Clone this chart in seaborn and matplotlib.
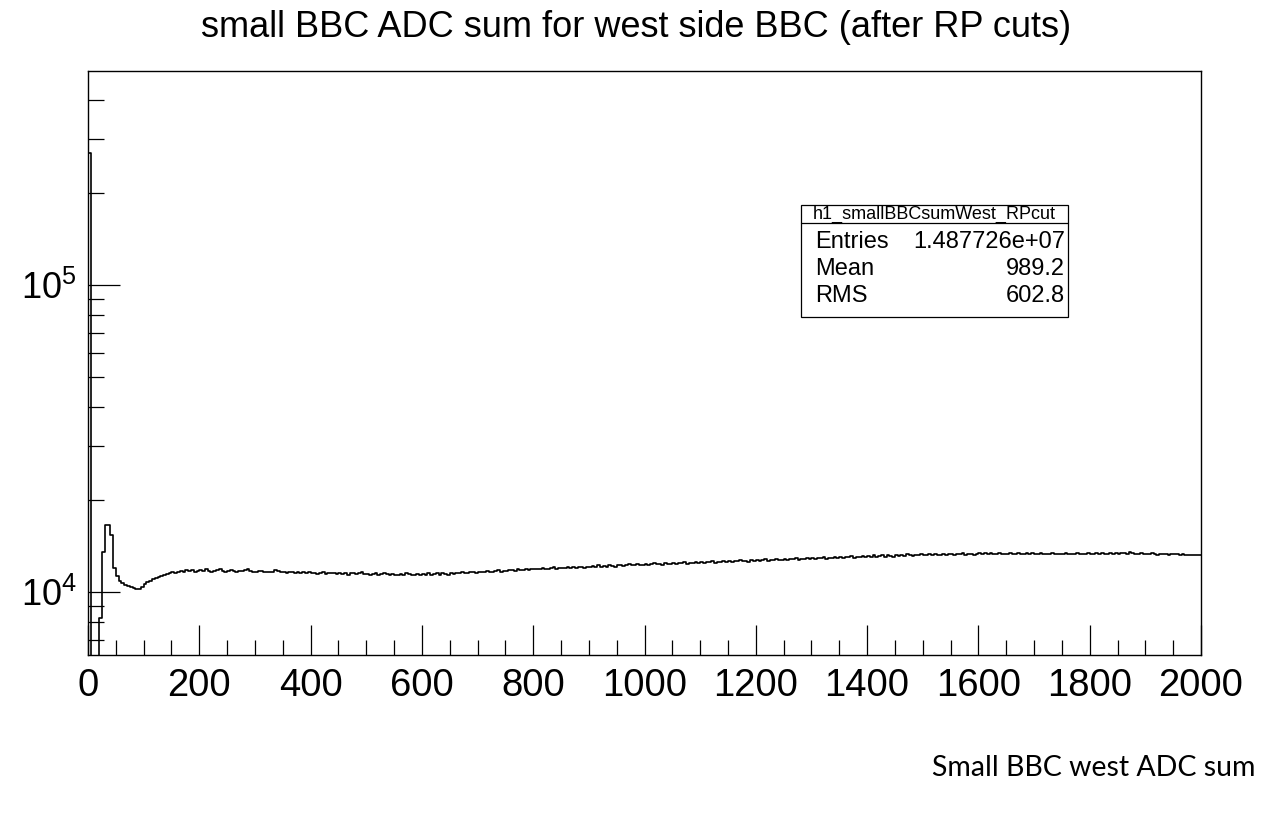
import numpy as np
import pandas as pd
import matplotlib
matplotlib.use("Agg")
import matplotlib.pyplot as plt
import seaborn as sns
from matplotlib.ticker import FixedLocator, LogLocator, NullFormatter, FuncFormatter
from matplotlib.patches import Rectangle
from matplotlib.lines import Line2D

# ---------------- data ----------------
x_min, x_max, n_bins = 0, 2000, 400
bin_edges = np.linspace(x_min, x_max, n_bins + 1)

counts = [
    270000, 0, 0, 0, 8200, 13500, 16500, 16500, 15300, 12000,
    11300, 10900, 10700, 10550, 10450, 10400, 10300, 10250, 10200, 10350,
    10600, 10750, 10850, 11000, 11100, 11200, 11250, 11350, 11450, 11500,
    11600, 11550, 11650, 11700, 11650, 11750, 11700, 11800, 11650, 11700,
    11750, 11700, 11850, 11700, 11650, 11700, 11750, 11900, 11700, 11650,
    11700, 11800, 11700, 11650, 11700, 11700, 11750, 11900, 11700, 11650,
    11650, 11700, 11700, 11600, 11650, 11650, 11650, 11800, 11700, 11650,
    11600, 11550, 11650, 11600, 11550, 11600, 11500, 11650, 11550, 11600,
    11500, 11550, 11450, 11500, 11600, 11450, 11500, 11550, 11500, 11450,
    11500, 11450, 11550, 11400, 11500, 11550, 11450, 11500, 11600, 11450,
    11450, 11400, 11450, 11550, 11400, 11450, 11500, 11450, 11400, 11450,
    11350, 11400, 11450, 11350, 11500, 11450, 11400, 11350, 11450, 11400,
    11450, 11400, 11500, 11350, 11450, 11500, 11400, 11550, 11450, 11400,
    11500, 11450, 11550, 11500, 11600, 11550, 11500, 11600, 11650, 11550,
    11650, 11600, 11650, 11700, 11600, 11650, 11700, 11750, 11650, 11700,
    11700, 11750, 11800, 11700, 11850, 11750, 11800, 11900, 11750, 11850,
    11900, 11850, 11900, 11950, 11850, 11900, 11950, 12050, 11900, 11950,
    12000, 11950, 12050, 12000, 12100, 11950, 12050, 12100, 12000, 12050,
    12100, 12150, 12050, 12200, 12100, 12150, 12050, 12200, 12150, 12100,
    12200, 12250, 12150, 12250, 12300, 12200, 12250, 12350, 12250, 12200,
    12300, 12250, 12350, 12400, 12300, 12350, 12250, 12400, 12350, 12300,
    12400, 12350, 12450, 12400, 12500, 12350, 12450, 12400, 12500, 12450,
    12500, 12450, 12550, 12500, 12600, 12450, 12550, 12500, 12600, 12550,
    12600, 12550, 12650, 12600, 12700, 12600, 12650, 12550, 12700, 12650,
    12700, 12650, 12750, 12800, 12650, 12750, 12700, 12850, 12750, 12700,
    12800, 12750, 12850, 12800, 12900, 12750, 12850, 12800, 12900, 12850,
    12900, 12850, 12950, 12900, 13000, 12850, 12950, 12900, 13050, 12950,
    13000, 12950, 13050, 13000, 13100, 12950, 13050, 13000, 13100, 13050,
    13100, 13050, 13150, 13000, 13100, 13150, 13050, 13200, 13100, 13050,
    13150, 13100, 13200, 13100, 13250, 13150, 13100, 13200, 13150, 13250,
    13200, 13150, 13250, 13150, 13300, 13200, 13150, 13250, 13200, 13300,
    13250, 13200, 13300, 13250, 13350, 13200, 13300, 13250, 13200, 13300,
    13350, 13300, 13400, 13250, 13350, 13300, 13250, 13350, 13300, 13250,
    13300, 13350, 13250, 13300, 13400, 13300, 13250, 13350, 13300, 13350,
    13300, 13250, 13350, 13300, 13250, 13300, 13350, 13250, 13300, 13300,
    13250, 13350, 13300, 13250, 13300, 13350, 13300, 13250, 13300, 13350,
    13300, 13250, 13350, 13300, 13400, 13300, 13250, 13350, 13300, 13350,
    13300, 13350, 13400, 13300, 13500, 13350, 13300, 13250, 13350, 13300,
    13250, 13300, 13350, 13250, 13200, 13300, 13250, 13300, 13200, 13250,
    13300, 13250, 13200, 13250, 13200, 13200, 13200, 13200, 13200, 13200,
]

title_text = "small BBC ADC sum for west side BBC (after RP cuts)"
xlabel_text = "Small BBC west ADC sum"
stats_name = "h1_smallBBCsumWest_RPcut"
stats_labels = ["Entries", "Mean", "RMS"]
stats_values = ["1.487726e+07", "989.2", "602.8"]
x_major_ticks = [0, 200, 400, 600, 800, 1000, 1200, 1400, 1600, 1800, 2000]
y_range = (6234, 4.98e5)

# ---------------- plot ----------------
sns.set_theme(style="white")
plt.rcParams["font.family"] = ["Liberation Sans", "DejaVu Sans"]
plt.rcParams["mathtext.fontset"] = "custom"
plt.rcParams["mathtext.rm"] = "Liberation Sans"
plt.rcParams["mathtext.it"] = "Liberation Sans"

W, H = 1271, 816
fig = plt.figure(figsize=(W / 100, H / 100), dpi=100)
fig.patch.set_facecolor("white")
L, R, T, B = 88, 1201, 71, 655
ax = fig.add_axes([L / W, 1 - B / H, (R - L) / W, (B - T) / H])
ax.set_facecolor("white")

df = pd.DataFrame({"center": 0.5 * (bin_edges[:-1] + bin_edges[1:]),
                   "count": np.asarray(counts, dtype=float)})
sns.histplot(data=df, x="center", weights="count", bins=list(bin_edges), element="step",
             fill=False, color="black", linewidth=1.2, ax=ax)

ax.set_yscale("log")
ax.set_xlim(x_min, x_max)
ax.set_ylim(*y_range)
ax.set_xlabel("")
ax.set_ylabel("")

for s in ax.spines.values():
    s.set_color("black")
    s.set_linewidth(1.0)

ax.xaxis.set_major_locator(FixedLocator(x_major_ticks))
ax.xaxis.set_minor_locator(FixedLocator(np.arange(0, 2001, 50)))
ax.yaxis.set_major_locator(LogLocator(base=10, numticks=10))
ax.yaxis.set_minor_locator(LogLocator(base=10, subs=np.arange(2, 10), numticks=20))
ax.yaxis.set_minor_formatter(NullFormatter())
ax.yaxis.set_major_formatter(FuncFormatter(lambda v, p: r"$10^{%d}$" % int(round(np.log10(v)))))

ax.tick_params(axis="x", which="major", direction="in", length=21.6, width=0.9,
               labelsize=27.5, pad=9, color="black", labelcolor="black",
               bottom=True, top=False)
ax.tick_params(axis="x", which="minor", direction="in", length=10.8, width=0.9,
               color="black", bottom=True, top=False)
ax.tick_params(axis="y", which="major", direction="in", length=23, width=0.9,
               labelsize=26, pad=8, color="black", labelcolor="black",
               left=True, right=False)
ax.tick_params(axis="y", which="minor", direction="in", length=11.5, width=0.9,
               color="black", left=True, right=False)

fig.text(636 / W, 1 - 37 / H, title_text, ha="center", va="baseline",
         fontsize=26, color="black")

fig.text(1256 / W, 1 - 768 / H, xlabel_text, ha="right", va="center",
         fontsize=20.5, color="black", family=["Lato", "DejaVu Sans"])

# stats box (ROOT style)
bx0, bx1, by0, by1, bsep = 801, 1068, 205, 317, 223
fig.patches.append(Rectangle((bx0 / W, 1 - by1 / H), (bx1 - bx0) / W, (by1 - by0) / H,
                             transform=fig.transFigure, facecolor="white",
                             edgecolor="black", linewidth=0.9, zorder=5))
fig.lines.append(Line2D([bx0 / W, bx1 / W], [1 - bsep / H, 1 - bsep / H],
                        transform=fig.transFigure, color="black", linewidth=0.9, zorder=6))
fig.text((bx0 + bx1) / 2 / W, 1 - 219 / H, stats_name, ha="center", va="baseline",
         fontsize=13, color="black", zorder=7)
row_baselines = [248, 275, 302]
for yb, lab, val in zip(row_baselines, stats_labels, stats_values):
    fig.text(815 / W, 1 - yb / H, lab, ha="left", va="baseline", fontsize=17,
             color="black", zorder=7)
    fig.text(1065 / W, 1 - yb / H, val, ha="right", va="baseline", fontsize=17,
             color="black", zorder=7)

fig.savefig("out.png", dpi=100, facecolor="white")
